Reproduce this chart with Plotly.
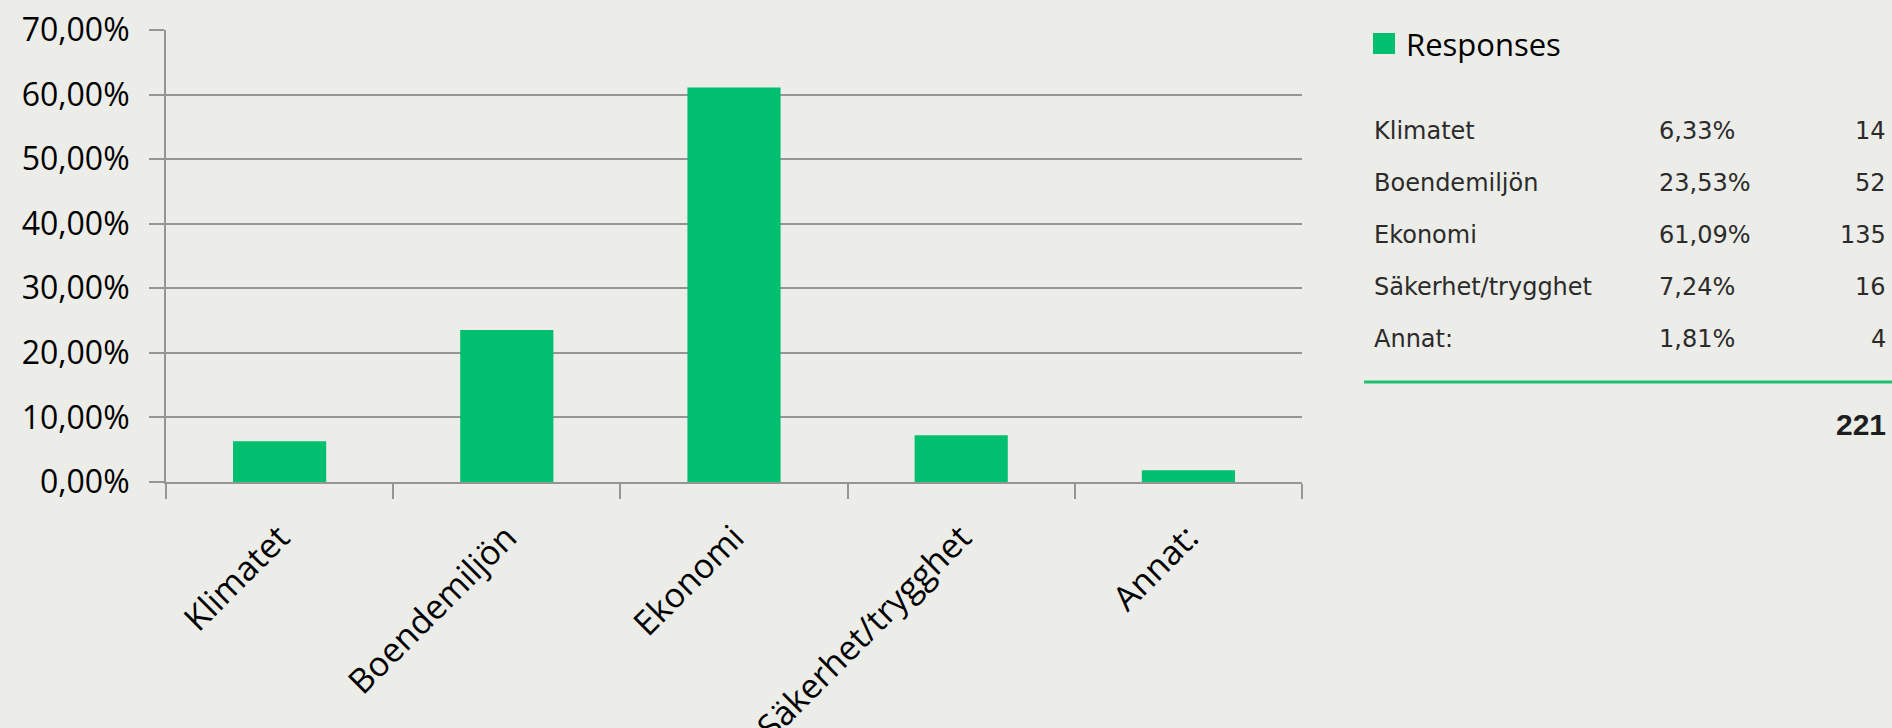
import plotly.graph_objects as go

# ---- data ----
categories = ["Klimatet", "Boendemiljön", "Ekonomi", "Säkerhet/trygghet", "Annat:"]
percent_values = [6.33, 23.53, 61.09, 7.24, 1.81]
response_counts = [14, 52, 135, 16, 4]
series_name = "Responses"
y_tick_values = [0.0, 0.1, 0.2, 0.3, 0.4, 0.5, 0.6, 0.7]

GREEN = "#00BF6F"
BG = "#ECECE8"
GRID = "#959595"
W, H = 1892, 728

# plot-area placement in pixels
L, R, T, B = 166, 1302, 30, 482


def px_x(p):
    return (p - L) / (R - L)


def px_y(p):
    return (B - p) / (B - T)


fig = go.Figure()
fig.add_trace(go.Bar(
    x=categories,
    y=[v / 100 for v in percent_values],
    marker=dict(color=GREEN, line=dict(width=0)),
    name=series_name,
    showlegend=False,
))

fig.update_layout(
    width=W, height=H,
    paper_bgcolor=BG, plot_bgcolor=BG,
    margin=dict(l=L, r=W - R, t=T, b=H - B, autoexpand=False),
    bargap=0.59,
    separators=", ",
    font=dict(family="Open Sans", size=32, color="#000000"),
    showlegend=False,
)

fig.update_yaxes(
    range=[0, 0.7],
    tickvals=y_tick_values,
    tickformat=".2%",
    showgrid=True, gridcolor=GRID, gridwidth=2,
    showline=True, linecolor=GRID, linewidth=2,
    ticks="outside", ticklen=15, tickwidth=2, tickcolor=GRID,
    ticklabelstandoff=13,
    zeroline=False,
    tickfont=dict(family="Open Sans", size=32, color="#000000"),
    automargin=False,
)
fig.update_xaxes(
    showline=True, linecolor=GRID, linewidth=2,
    ticks="outside", ticklen=15, tickwidth=2, tickcolor=GRID,
    tickson="boundaries",
    tickangle=-45,
    ticklabelstandoff=20,
    tickfont=dict(family="Open Sans", size=34, color="#000000"),
    automargin=False,
)

# ---- legend-like header on the right ----
shapes = [
    dict(type="rect", xref="paper", yref="paper",
         x0=px_x(1373), x1=px_x(1395), y0=px_y(54), y1=px_y(33),
         fillcolor=GREEN, line=dict(width=0)),
    dict(type="line", xref="paper", yref="paper",
         x0=px_x(1364), x1=px_x(W), y0=px_y(382), y1=px_y(382),
         line=dict(color="#1DBF73", width=3)),
]

annotations = [
    dict(text=series_name, xref="paper", yref="paper",
         x=px_x(1404), y=px_y(44), xanchor="left", yanchor="middle",
         showarrow=False, font=dict(family="Open Sans", size=31, color="#000000")),
]

row_font = dict(family="DejaVu Sans", size=24, color="#2B2B2B")
row_y0, row_step = 131, 52
for i, (cat, pct, cnt) in enumerate(zip(categories, percent_values, response_counts)):
    yy = px_y(row_y0 + i * row_step)
    annotations.append(dict(text=cat, xref="paper", yref="paper", x=px_x(1372), y=yy,
                            xanchor="left", yanchor="middle", showarrow=False, font=row_font))
    annotations.append(dict(text=f"{pct:.2f}%".replace(".", ","), xref="paper", yref="paper",
                            x=px_x(1657), y=yy, xanchor="left", yanchor="middle",
                            showarrow=False, font=row_font))
    annotations.append(dict(text=str(cnt), xref="paper", yref="paper", x=px_x(1888), y=yy,
                            xanchor="right", yanchor="middle", showarrow=False, font=row_font))

annotations.append(dict(text=f"<b>{sum(response_counts)}</b>", xref="paper", yref="paper",
                        x=px_x(1888), y=px_y(424), xanchor="right", yanchor="middle",
                        showarrow=False,
                        font=dict(family="Liberation Sans", size=30, color="#1E1E1E")))

fig.update_layout(shapes=shapes, annotations=annotations)

fig.write_html(
    "out.html",
    config={"displayModeBar": False},
    post_script="document.body.style.margin='0';document.body.style.overflow='hidden';"
                "document.documentElement.style.overflow='hidden';",
)
